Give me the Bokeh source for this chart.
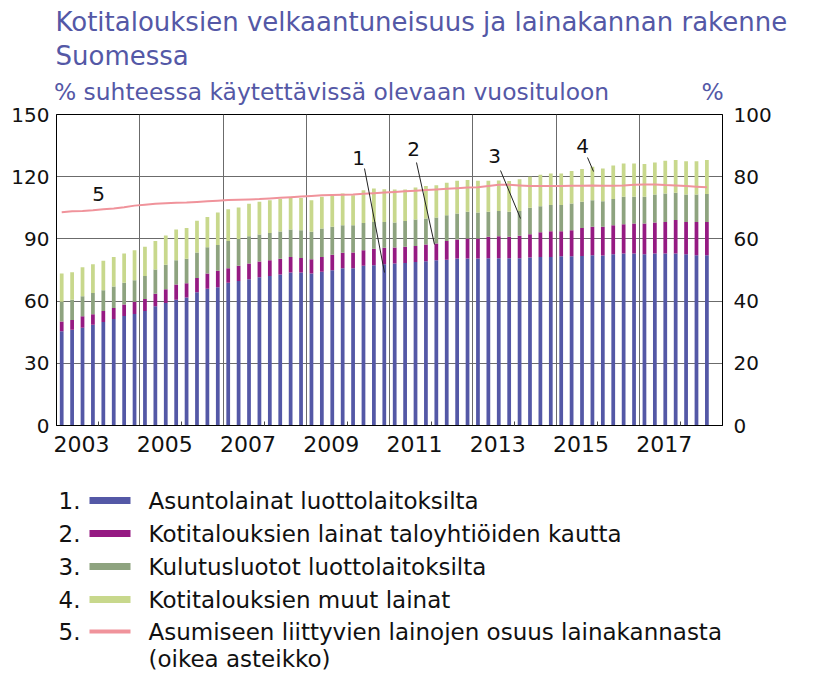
import numpy as np
from bokeh.plotting import figure
from bokeh.models import Range1d, LinearAxis, FixedTicker, PrintfTickFormatter
from bokeh.embed import file_html
from bokeh.resources import INLINE
from bokeh.core.properties import value

# ---------------- data ----------------
quarters = [f"{y}Q{q}" for y in range(2003, 2019) for q in (1, 2, 3, 4)][:63]

# 1. Asuntolainat luottolaitoksilta (% of disposable income)
asuntolainat = [45.4, 46.2, 47.2, 48.6, 49.9, 51.4, 52.8, 53.8, 55.2, 57.5,
                59.1, 60.7, 61.7, 64.3, 65.9, 66.7, 68.8, 69.7, 70.5, 71.5,
                72.1, 72.8, 73.8, 73.8, 73.3, 74.1, 74.9, 75.8, 75.8, 77.0,
                77.3, 77.8, 78.1, 78.4, 78.9, 79.2, 79.7, 80.0, 80.5, 80.5,
                80.5, 80.7, 80.7, 80.7, 80.7, 81.0, 81.3, 81.3, 81.6, 81.6,
                81.8, 82.1, 82.0, 82.6, 82.9, 82.9, 82.6, 82.9, 82.9, 82.9,
                82.6, 82.1, 82.1]
# 2. Kotitalouksien lainat taloyhtiöiden kautta
taloyhtiolainat = [4.8, 4.7, 5.5, 5.0, 5.3, 5.3, 5.5, 5.9, 5.8, 6.1,
                   6.6, 7.3, 6.9, 6.9, 7.4, 7.9, 7.0, 7.3, 7.6, 7.6,
                   7.6, 7.6, 7.5, 7.0, 6.9, 7.2, 7.5, 7.5, 7.6, 7.5,
                   7.9, 7.9, 7.7, 7.8, 7.7, 8.1, 8.1, 9.0, 9.2, 9.7,
                   9.7, 10.3, 10.6, 10.3, 10.8, 11.3, 11.9, 12.4, 12.1, 12.6,
                   13.5, 13.7, 13.8, 14.0, 14.2, 14.5, 14.8, 15.0, 15.3, 16.2,
                   15.6, 16.1, 16.1]
# 3. Kulutusluotot luottolaitoksilta
kulutusluotot = [9.5, 9.8, 9.6, 10.3, 10.0, 10.4, 10.5, 10.3, 11.1, 11.6,
                 11.8, 11.7, 11.8, 12.2, 12.7, 12.5, 13.2, 12.9, 13.2, 13.0,
                 13.2, 13.2, 13.2, 13.4, 13.2, 13.7, 13.4, 13.3, 13.2, 13.2,
                 13.0, 12.5, 12.1, 12.4, 12.8, 12.5, 12.5, 12.4, 12.6, 12.9,
                 12.5, 12.1, 12.1, 12.1, 11.9, 12.7, 12.6, 12.6, 12.6, 12.9,
                 12.6, 12.9, 12.4, 12.6, 13.2, 12.9, 12.9, 13.5, 13.7, 13.2,
                 13.2, 13.2, 13.4]
# 4. Kotitalouksien muut lainat
muut_lainat = [13.6, 13.2, 14.0, 13.9, 14.3, 14.2, 14.1, 14.5, 14.1, 13.8,
               14.1, 14.8, 14.8, 15.3, 14.6, 15.6, 15.3, 15.3, 15.6, 15.8,
               15.8, 15.6, 15.5, 15.5, 15.3, 15.3, 15.6, 15.3, 14.5, 15.8,
               16.1, 15.8, 15.9, 15.2, 15.4, 15.7, 15.6, 15.7, 15.7, 15.3,
               15.3, 14.9, 14.8, 14.8, 15.4, 15.0, 15.1, 15.3, 15.3, 15.6,
               15.8, 16.1, 15.8, 16.2, 16.1, 16.1, 15.8, 15.5, 15.8, 15.8,
               16.1, 16.1, 16.4]
# 5. Asumiseen liittyvien lainojen osuus lainakannasta (right scale, %)
asumisen_osuus = [68.6, 68.9, 69.0, 69.2, 69.5, 69.8, 70.2, 70.7, 71.0, 71.3,
                  71.5, 71.6, 71.7, 71.9, 72.1, 72.3, 72.5, 72.6, 72.7, 72.8,
                  73.0, 73.2, 73.4, 73.6, 73.8, 74.0, 74.1, 74.2, 74.3, 74.5,
                  74.7, 74.9, 75.1, 75.3, 75.5, 75.7, 75.9, 76.1, 76.3, 76.5,
                  76.6, 77.0, 77.4, 77.4, 77.2, 77.0, 77.0, 77.0, 77.0, 77.1,
                  77.1, 77.2, 77.1, 77.1, 77.2, 77.4, 77.5, 77.5, 77.3, 77.2,
                  77.0, 76.8, 76.6]

year_labels = ["2003", "2005", "2007", "2009", "2011", "2013", "2015", "2017"]
left_ticks = [0, 30, 60, 90, 120, 150]
right_ticks = [0, 20, 40, 60, 80, 100]

legend_numbers = ["1.", "2.", "3.", "4.", "5."]
legend_labels = ["Asuntolainat luottolaitoksilta",
                 "Kotitalouksien lainat taloyhtiöiden kautta",
                 "Kulutusluotot luottolaitoksilta",
                 "Kotitalouksien muut lainat",
                 "Asumiseen liittyvien lainojen osuus lainakannasta"]
legend_extra = "(oikea asteikko)"

title_lines = ["Kotitalouksien velkaantuneisuus ja lainakannan rakenne", "Suomessa"]
subtitle_left = "% suhteessa käytettävissä olevaan vuosituloon"
subtitle_right = "%"

# ---------------- styles ----------------
FONT = "DejaVu Sans"
C_BLUE = "#5458a6"
C_MAG = "#951a82"
C_GREEN = "#8ea37f"
C_LIGHT = "#c8d88c"
C_PINK = "#f0939b"
C_TITLE = "#5458a6"
C_GRID = "#6b6b6b"
C_TEXT = "#111111"

W = 814
TOP_H = 72           # canvas rows 0..72
MAIN_H = 398         # canvas rows 72..470  (frame 114..425)
LEG_H = 203          # canvas rows 470..673
FRAME_TOP = 114

# frame in canvas pixels: x 56..722, y 114..425
def dx(px):
    return 2003 + (px - 56) * 16.0 / 666.0

def dy(py):
    return (425 - py) * 150.0 / 311.0

def blank_fig(h, y0):
    f = figure(width=W, height=h, x_range=Range1d(0, W), y_range=Range1d(y0 + h, y0),
               output_backend="svg", toolbar_location=None, title=None,
               min_border=0, min_border_left=0, min_border_right=0,
               min_border_top=0, min_border_bottom=0,
               x_axis_type=None, y_axis_type=None)
    f.outline_line_color = None
    f.background_fill_color = "white"
    f.border_fill_color = "white"
    return f

# ---------------- title figure ----------------
tf = blank_fig(TOP_H, 0)
tf.text(x=[55, 55], y=[21, 55], text=title_lines, text_font=value(FONT),
        text_font_size=value("26px"), text_color=C_TITLE, text_baseline="middle")

# ---------------- main figure ----------------
x = np.array([int(q[:4]) + (int(q[5]) - 0.5) / 4.0 for q in quarters])

p = figure(width=W, height=MAIN_H, x_range=Range1d(2003, 2019), y_range=Range1d(0, 150),
           output_backend="svg", toolbar_location=None, title=None,
           min_border_left=56, min_border_right=W - 722, min_border_top=FRAME_TOP - TOP_H,
           min_border_bottom=MAIN_H - (FRAME_TOP - TOP_H) - 311)
p.background_fill_color = "white"
p.border_fill_color = "white"
p.outline_line_color = "black"
p.outline_line_width = 1

p.extra_y_ranges = {"pct": Range1d(0, 100)}
# helper range in canvas pixels, used only to place the subtitle texts above the frame
p.extra_x_ranges = {"px": Range1d(56, 722)}

p.xaxis.ticker = FixedTicker(ticks=[int(s) + 0.6 for s in year_labels],
                             minor_ticks=list(range(2004, 2019, 2)))
p.xaxis.formatter = PrintfTickFormatter(format="%d")
p.xaxis.major_tick_in = 0
p.xaxis.major_tick_out = 0
p.xaxis.minor_tick_in = 4
p.xaxis.minor_tick_out = 0
p.xaxis.minor_tick_line_color = "#444444"
p.xaxis.major_label_standoff = 10
p.xaxis.major_label_text_font = FONT
p.xaxis.major_label_text_font_size = "22px"
p.xaxis.major_label_text_color = C_TEXT
p.xaxis.axis_line_color = "black"

p.yaxis.ticker = FixedTicker(ticks=left_ticks)
p.yaxis.major_tick_in = 0
p.yaxis.major_tick_out = 0
p.yaxis.minor_tick_line_color = None
p.yaxis.major_label_standoff = 7
p.yaxis.major_label_text_font = FONT
p.yaxis.major_label_text_font_size = "20px"
p.yaxis.major_label_text_color = C_TEXT
p.yaxis.axis_line_color = "black"

ra = LinearAxis(y_range_name="pct", ticker=FixedTicker(ticks=right_ticks))
ra.major_tick_in = 0
ra.major_tick_out = 0
ra.minor_tick_line_color = None
ra.major_label_standoff = 11
ra.major_label_text_font = FONT
ra.major_label_text_font_size = "20px"
ra.major_label_text_color = C_TEXT
ra.axis_line_color = "black"
p.add_layout(ra, "right")

# subtitle row: an unlined axis above the frame whose two labels are the texts
sub_ax = LinearAxis(x_range_name="px", ticker=FixedTicker(ticks=[331, 712]),
                    major_label_overrides={331: subtitle_left, 712: subtitle_right})
sub_ax.axis_line_color = None
sub_ax.major_tick_line_color = None
sub_ax.minor_tick_line_color = None
sub_ax.major_tick_in = 0
sub_ax.major_tick_out = 0
sub_ax.major_label_standoff = 9
sub_ax.major_label_text_font = FONT
sub_ax.major_label_text_font_size = "23.4px"
sub_ax.major_label_text_color = C_TITLE
p.add_layout(sub_ax, "above")

p.xgrid.ticker = FixedTicker(ticks=list(range(2005, 2019, 2)))
p.ygrid.ticker = FixedTicker(ticks=left_ticks[1:-1])
p.xgrid.grid_line_color = C_GRID
p.ygrid.grid_line_color = C_GRID
p.xgrid.grid_line_width = 1
p.ygrid.grid_line_width = 1

bottom = np.zeros(len(x))
for comp, col in [(asuntolainat, C_BLUE), (taloyhtiolainat, C_MAG),
                  (kulutusluotot, C_GREEN), (muut_lainat, C_LIGHT)]:
    top = bottom + np.array(comp)
    p.vbar(x=x, bottom=bottom, top=top, width=0.09, fill_color=col, line_color=None)
    bottom = top

p.line(x, asumisen_osuus, y_range_name="pct", line_color=C_PINK, line_width=2)

num_px = [(358, 157), (413, 148), (494, 155), (582, 145), (98, 193)]
p.text(x=[dx(a) for a, b in num_px], y=[dy(b) for a, b in num_px],
       text=["1", "2", "3", "4", "5"], text_font=value(FONT), text_font_size=value("20px"),
       text_align="center", text_baseline="middle", text_color=C_TEXT)
leaders = [((364, 168), (384, 272)), ((416, 162), (434, 244)),
           ((500, 170), (520, 218)), ((587, 157), (593, 171))]
p.segment(x0=[dx(a[0]) for a, b in leaders], y0=[dy(a[1]) for a, b in leaders],
          x1=[dx(b[0]) for a, b in leaders], y1=[dy(b[1]) for a, b in leaders],
          line_color="#222222", line_width=1)

# ---------------- legend figure ----------------
lg = blank_fig(LEG_H, 470)
rows = [500, 533, 566, 599, 631]
lg.text(x=[58] * 5, y=rows, text=legend_numbers, text_font=value(FONT),
        text_font_size=value("23px"), text_baseline="middle", text_color=C_TEXT)
lg.text(x=[148] * 5, y=rows, text=legend_labels, text_font=value(FONT),
        text_font_size=value("23px"), text_baseline="middle", text_color=C_TEXT)
lg.text(x=[148], y=[658], text=[legend_extra], text_font=value(FONT),
        text_font_size=value("23px"), text_baseline="middle", text_color=C_TEXT)
lg.segment(x0=[89] * 5, x1=[130] * 5, y0=rows, y1=rows,
           line_color=[C_BLUE, C_MAG, C_GREEN, C_LIGHT, C_PINK], line_width=[7, 7, 7, 7, 4])

# separate roots (no frame alignment between them), stacked vertically
open("out.html", "w").write(file_html([tf, p, lg], INLINE))
